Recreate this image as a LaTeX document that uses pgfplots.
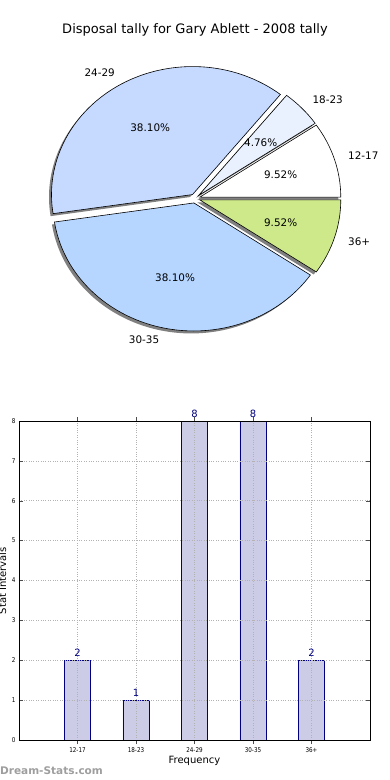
\documentclass[border=0pt]{standalone}
\usepackage{pgfplots}
\pgfplotsset{compat=1.18}
\usetikzlibrary{calc}
\usepackage{fontspec}
\setmainfont{DejaVu Sans}
\newfontfamily\condensed{DejaVu Sans}[FakeStretch=0.85]
\definecolor{pA}{HTML}{FFFFFF}
\definecolor{pB}{HTML}{E9F1FE}
\definecolor{pC}{HTML}{C6D9FE}
\definecolor{pD}{HTML}{B6D6FF}
\definecolor{pE}{HTML}{CDE98A}
\definecolor{barfill}{HTML}{CCCCE6}
\definecolor{navyc}{HTML}{000080}
\def\pietotal{21}
\def\piedata{2/12-17/pA,1/18-23/pB,8/24-29/pC,8/30-35/pD,2/36+/pE}
\begin{document}
\begin{tikzpicture}
\path[use as bounding box] (0pt,0pt) rectangle (390pt,-780pt);
\node[font=\fontsize{13}{15}\selectfont] at (195pt,-30pt) {Disposal tally for Gary Ablett - 2008 tally};
% ---------------- pie ----------------
\begin{axis}[at={(0pt,-390pt)}, anchor=south west, scale only axis,
  width=390pt, height=390pt, xmin=0, xmax=390, ymin=0, ymax=390,
  hide axis, clip=false]
\pgfplotsextra{
  % shadows
  \gdef\cum{0}
  \foreach \v/\lab/\col in \piedata {
    \pgfmathsetmacro\sa{360*\cum/\pietotal}
    \pgfmathsetmacro\ea{360*(\cum+\v)/\pietotal}
    \pgfmathsetmacro\ma{(\sa+\ea)/2}
    \path (axis cs:195,191.5) ++(\ma:5pt and 4.55pt) ++(-2.5pt,-2.5pt) coordinate (S);
    \fill[black!50] (S) -- ++(\sa:141pt and 128pt)
      arc[start angle=\sa, end angle=\ea, x radius=141pt, y radius=128pt] -- cycle;
    \pgfmathtruncatemacro\nc{\cum+\v}\xdef\cum{\nc}
  }
  % wedges
  \gdef\cum{0}
  \foreach \v/\lab/\col in \piedata {
    \pgfmathsetmacro\sa{360*\cum/\pietotal}
    \pgfmathsetmacro\ea{360*(\cum+\v)/\pietotal}
    \pgfmathsetmacro\ma{(\sa+\ea)/2}
    \pgfmathsetmacro\pc{100*\v/\pietotal}
    \pgfmathsetmacro\cm{cos(\ma)}
    \ifdim\cm pt>0pt \def\anc{west}\else\def\anc{east}\fi
    \path (axis cs:195,191.5) ++(\ma:5pt and 4.55pt) coordinate (O);
    \filldraw[fill=\col, draw=black, line width=0.6pt] (O) -- ++(\sa:141pt and 128pt)
      arc[start angle=\sa, end angle=\ea, x radius=141pt, y radius=128pt] -- cycle;
    \path (O) ++(\ma:155.1pt and 140.8pt) node[anchor=\anc, inner sep=0pt, font=\fontsize{10.4}{12}\selectfont] {\lab};
    \path (O) ++(\ma:84.6pt and 76.8pt) node[inner sep=0pt, font=\fontsize{10.4}{12}\selectfont]
      {\pgfmathprintnumber[fixed,fixed zerofill,precision=2,assume math mode=true]{\pc}\%};
    \pgfmathtruncatemacro\nc{\cum+\v}\xdef\cum{\nc}
  }
}
\end{axis}
% ---------------- bars ----------------
\begin{axis}[at={(19pt,-740pt)}, anchor=south west, scale only axis,
  width=351pt, height=319pt,
  xmin=-1, xmax=5, ymin=0, ymax=8,
  xtick={0,1,2,3,4}, xticklabels={12-17,18-23,24-29,30-35,36+},
  ytick={0,1,...,8},
  ybar, bar width=26pt,
  grid=major, major grid style={dotted, line width=0.6pt, black!30},
  axis on top, clip=false,
  axis line style={black, line width=0.8pt},
  tick style={black!70, line width=0.5pt},
  major tick length=4pt,
  ticklabel style={font=\condensed\fontsize{6.6}{8}\selectfont},
  /pgf/number format/assume math mode=true,
  xlabel={Frequency}, ylabel={Stat Intervals},
  label style={font=\fontsize{10}{12}\selectfont},
  xlabel style={at={(axis description cs:0.5,-0.066)}, anchor=center},
  ylabel style={at={(axis description cs:-0.047,0.5)}, anchor=center},
  nodes near coords,
  every node near coord/.append style={font=\fontsize{10}{12}\selectfont, text=navyc},
]
\addplot[fill=barfill, draw=navyc, line width=0.8pt] coordinates {(0,2) (1,1) (2,8) (3,8) (4,2)};
\end{axis}
\node[anchor=west, inner sep=0pt, font=\bfseries\fontsize{10.5}{12}\selectfont, text=black!38] at (0pt,-771pt) {Dream-Stats.com};
\end{tikzpicture}
\end{document}
